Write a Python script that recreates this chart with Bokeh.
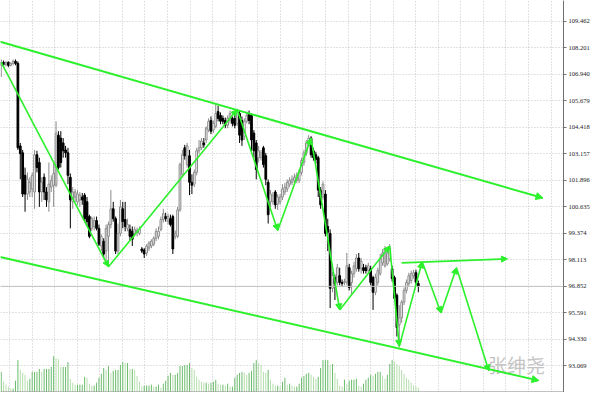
from bokeh.plotting import figure
from bokeh.models import (ColumnDataSource, Range1d, FixedTicker, PrintfTickFormatter,
                          Span, Label, Arrow, NormalHead)
from bokeh.embed import file_html
from bokeh.resources import INLINE

# ---------------- data ----------------
opens = [107.36,107.50,107.41,107.50,107.36,107.45,107.55,107.45,103.53,103.20,
         102.13,101.24,101.34,101.48,101.34,103.11,102.74,101.34,102.04,101.34,
         100.87,101.57,101.66,101.66,104.04,103.90,103.67,103.34,103.20,102.04,
         100.87,101.10,100.87,100.96,101.10,101.19,100.87,100.17,99.61,99.70,
         99.98,99.61,98.77,99.00,98.53,99.23,99.79,100.54,100.07,98.53,
         99.37,100.54,100.03,99.61,99.56,99.47,99.37,99.42,99.37,98.63,
         98.58,98.44,98.67,98.77,98.86,99.14,99.23,99.56,100.03,100.17,
         99.93,100.07,100.17,99.23,99.23,100.49,102.18,103.44,102.64,103.06,
         101.80,101.71,102.27,103.30,103.44,103.67,103.81,104.28,104.74,104.28,
         104.46,105.16,104.98,104.84,104.74,104.51,104.74,104.84,104.84,104.60,
         105.07,104.74,103.99,104.70,105.07,104.98,104.14,103.67,102.97,102.97,
         103.44,103.06,101.80,100.87,100.87,101.34,100.77,100.87,101.10,101.34,
         101.48,101.71,101.80,101.89,101.89,101.89,102.27,102.74,103.20,103.67,
         103.90,103.30,103.11,102.97,101.43,101.10,101.24,99.70,99.37,96.76,
         97.27,97.04,97.36,97.04,97.04,97.04,97.74,97.04,97.46,97.69,
         98.20,97.69,97.74,97.74,97.60,97.69,97.27,96.57,97.04,97.46,
         97.97,97.83,97.92,98.16,97.69,97.27,96.43,95.03,95.36,96.10,
         96.66,96.99,97.13,97.36,97.50,96.99]
highs = [107.64,107.59,107.55,107.55,107.50,107.64,107.64,107.55,103.67,103.34,
         102.50,102.27,102.04,102.27,103.34,103.30,102.97,102.04,102.22,101.57,
         102.74,102.13,102.74,104.70,104.23,104.23,103.90,103.53,103.44,102.22,
         101.57,101.48,101.43,101.34,101.29,101.29,101.10,100.26,100.17,100.17,
         100.17,99.79,99.33,99.14,99.79,99.93,101.43,100.87,100.17,99.84,
         100.96,100.87,100.87,100.07,99.79,99.70,99.70,99.65,99.70,98.72,
         98.67,98.86,99.00,99.09,99.23,99.61,99.70,100.17,100.54,100.35,
         100.31,100.26,100.26,99.51,100.63,102.74,103.34,103.58,103.67,103.34,
         102.18,102.41,103.44,103.81,103.90,103.90,104.46,104.84,104.93,104.74,
         105.54,105.44,105.12,104.98,104.88,104.98,105.21,104.93,105.07,105.30,
         105.21,104.93,104.84,105.16,105.21,105.07,104.28,103.81,103.53,103.34,
         103.53,103.20,101.94,101.43,101.34,101.43,101.24,101.24,101.71,101.76,
         101.94,102.04,102.13,102.22,102.27,102.41,102.97,103.34,103.81,104.04,
         103.99,103.44,103.25,103.06,101.57,101.85,101.43,100.07,99.56,97.55,
         97.41,97.92,97.74,97.18,97.22,98.44,97.92,97.60,98.02,98.39,
         98.44,98.20,97.92,97.88,97.97,97.83,97.36,97.46,97.74,98.39,
         98.63,98.77,98.67,98.86,97.83,97.36,96.52,95.96,96.20,96.80,
         97.18,97.50,97.60,97.64,97.64,97.13]
lows = [106.80,107.27,107.31,107.27,107.31,107.36,107.36,103.34,101.94,101.10,
        100.40,100.96,101.10,101.10,100.54,102.27,100.63,100.87,100.96,100.63,
        100.40,101.34,100.63,101.57,102.41,102.50,102.97,102.97,101.71,99.61,
        100.54,100.87,100.73,100.63,100.73,99.89,99.70,99.14,99.47,99.51,
        99.51,98.77,98.53,98.20,98.06,97.83,99.61,99.93,98.39,98.39,
        99.23,99.61,99.47,99.47,99.00,98.77,99.23,99.23,99.28,98.44,
        98.20,98.30,98.53,98.67,98.77,99.00,99.09,99.47,99.89,99.93,
        99.79,99.70,98.39,99.09,99.14,100.40,102.04,102.88,102.50,101.19,
        101.24,101.57,102.13,103.16,103.34,103.44,103.67,104.18,104.09,104.14,
        104.37,104.70,104.56,104.56,104.37,104.37,104.60,104.46,104.37,104.46,
        103.67,103.53,103.81,104.60,104.56,103.20,102.97,101.94,102.74,102.83,
        102.50,101.66,99.84,100.63,100.73,100.54,100.49,100.73,100.96,101.19,
        101.34,101.57,101.66,101.76,101.76,101.76,102.13,102.59,103.06,103.53,
        102.97,102.83,102.69,101.10,100.54,100.96,99.23,98.53,95.82,96.57,
        96.20,96.90,96.90,96.85,96.90,96.90,96.66,96.43,97.27,97.55,
        97.55,97.46,97.46,97.46,97.46,96.90,95.73,96.43,96.90,97.36,
        97.83,97.74,97.83,98.02,97.08,96.15,94.47,93.95,95.12,95.96,
        96.52,96.85,96.99,97.22,96.90,96.57]
closes = [107.50,107.41,107.50,107.36,107.45,107.55,107.45,103.44,103.16,101.24,
          101.24,101.94,101.80,102.13,103.11,102.50,101.34,101.80,101.34,100.96,
          101.71,101.89,102.22,104.14,102.50,102.74,103.30,103.20,102.13,100.96,
          101.34,101.34,101.24,101.19,100.96,100.07,99.93,99.23,100.07,99.98,
          99.61,98.86,99.23,98.39,99.61,99.79,100.54,100.07,98.53,99.37,
          100.63,99.93,99.70,99.79,99.23,99.09,99.56,99.51,99.56,98.53,
          98.39,98.77,98.91,99.00,99.14,99.47,99.47,100.03,100.31,100.07,
          100.17,99.79,98.63,99.37,100.49,102.64,103.11,103.06,103.53,101.80,
          101.66,102.27,103.30,103.44,103.76,103.58,104.37,104.70,104.23,104.60,
          105.07,104.84,104.70,104.70,104.51,104.84,105.07,104.60,104.51,105.16,
          104.04,103.81,104.70,104.98,104.74,103.81,103.30,102.41,103.30,103.20,
          102.64,101.94,100.26,101.24,101.19,100.73,101.10,101.10,101.48,101.57,
          101.80,101.89,101.94,102.04,102.13,102.27,102.83,103.20,103.67,103.90,
          103.11,102.97,102.88,101.43,100.73,101.71,99.37,99.42,96.76,97.36,
          96.99,97.74,97.04,96.99,97.08,97.83,96.80,97.46,97.83,98.20,
          97.69,98.06,97.60,97.60,97.83,97.04,96.57,97.27,97.60,98.16,
          98.44,98.63,98.44,98.67,97.22,96.29,94.89,95.36,96.10,96.66,
          97.04,97.36,97.46,97.50,97.04,96.85]
volumes = [2100,1100,800,600,400,400,1200,3300,2300,2000,
           1800,1200,1400,2100,2100,2100,2400,2100,2400,2400,
           2400,2600,3700,3500,3400,2600,2600,2600,3100,1400,
           1000,800,800,800,800,1600,1500,900,700,700,
           1000,1500,1900,2500,2300,2700,2000,2200,2300,2300,
           2800,3100,3000,3000,2400,2400,2300,1700,1100,600,
           700,700,700,800,600,600,800,500,900,1200,
           1700,2000,1800,1800,2000,2700,2700,2800,2800,3000,
           2500,2300,1600,1300,1100,1000,1000,900,1000,1100,
           1300,900,800,800,700,900,600,600,1500,1800,
           2000,2100,2000,1800,2000,2200,3000,3300,3000,2800,
           2100,2000,2300,1300,900,700,700,600,1100,1500,
           800,900,700,600,600,900,1500,1700,1900,2000,
           1800,1600,1400,1600,2500,3300,3300,3300,2800,2900,
           2000,1400,700,600,1300,900,1200,1300,1300,1400,
           700,600,900,1300,1500,1800,1700,1900,2100,2100,
           1700,1400,1800,2900,3300,3100,2900,2700,2300,1900,
           1500,1300,1000,700,600,500]
bars = list(range(len(closes)))

# hand-drawn analysis lines (bar index, price)
zz_bar = [0, 45, 99, 116, 130, 142, 163, 167, 176.6, 184.5, 191.0, 204.6]
zz_price = [107.50, 97.78, 105.26, 99.51, 103.90, 95.73, 98.77, 94.00, 98.02, 95.59, 97.74, 92.83]
chan_up_bar = [-0.4, 227.3]
chan_up_price = [108.48, 101.05]
chan_lo_bar = [-0.4, 225.6]
chan_lo_price = [98.25, 92.37]
target_bar = [168, 212.4]
target_price = [97.97, 98.16]

price_ticks = [93.069, 94.330, 95.591, 96.852, 98.113, 99.374, 100.635, 101.896,
               103.157, 104.418, 105.679, 106.940, 108.201, 109.462]
current_price = 96.852
watermark = "张绅尧"

# ---------------- styling ----------------
GREEN = "#2cf02c"
X0, X1 = -0.3, 235.9
Y0, Y1 = 91.806, 110.443

p = figure(width=592, height=392, x_range=Range1d(X0, X1), y_range=Range1d(Y0, Y1),
           output_backend="svg", toolbar_location=None, y_axis_location="right",
           min_border_left=0, min_border_top=0, min_border_bottom=0, min_border_right=0)
p.outline_line_color = None
p.background_fill_color = "white"
p.border_fill_color = "white"

p.xaxis.visible = False
vgrid = [175 + (9.3 + 23 * k - 426) / 2.43 for k in range(25)]
p.xgrid.ticker = FixedTicker(ticks=vgrid)

p.yaxis.ticker = FixedTicker(ticks=price_ticks)
p.yaxis.formatter = PrintfTickFormatter(format="%.3f")
p.yaxis.major_label_text_font_size = "6.5px"
p.yaxis.major_label_text_font = "Liberation Sans Narrow"
p.yaxis.major_label_text_color = "#202020"
p.yaxis.major_tick_out = 3
p.yaxis.major_tick_in = 0
p.yaxis.minor_tick_line_color = None
p.yaxis.axis_line_color = "#707070"
p.yaxis.major_tick_line_color = "#707070"
p.yaxis.major_label_standoff = 2

for g in (p.xgrid, p.ygrid):
    g.grid_line_color = "#c4c4c4"
    g.grid_line_dash = "1 2"
p.ygrid.ticker = FixedTicker(ticks=price_ticks)

# bottom border of the chart
p.add_layout(Span(location=Y0 + 0.03, dimension="width", line_color="#a0a0a0", line_width=1))

# volumes
p.extra_y_ranges = {"vol": Range1d(0, 39900)}
vol_colors = ["#6cbc6c"] + ["#b6deae" if volumes[i] < volumes[i - 1] else "#6cbc6c"
                            for i in range(1, len(volumes))]
p.segment(x0=bars, y0=[0] * len(bars), x1=bars, y1=volumes, y_range_name="vol",
          line_color=vol_colors, line_width=1)

# current price line
p.add_layout(Span(location=current_price, dimension="width", line_color="#c0c0c0", line_width=1))

# candles
up = [c > o for o, c in zip(opens, closes)]
src = ColumnDataSource(dict(
    x=bars, o=opens, h=highs, l=lows, c=closes,
    top=[max(o, c) for o, c in zip(opens, closes)],
    bot=[min(o, c) for o, c in zip(opens, closes)],
    wick=["#8a8a8a" if u else "#000000" for u in up],
    fill=["#ffffff" if u else "#000000" for u in up],
    edge=["#8a8a8a" if u else "#000000" for u in up],
))
p.segment(x0="x", y0="h", x1="x", y1="l", line_color="wick", line_width=1, source=src)
p.vbar(x="x", width=0.72, top="top", bottom="bot", fill_color="fill", line_color="edge",
       line_width=1, source=src)

# watermark
p.add_layout(Label(x=204.2, y=93.16, text=watermark, text_font="Noto Sans CJK SC",
                   text_font_size="19px", text_color="#c4c4c4", text_baseline="middle",
                   text_align="left"))

# analysis lines
def arrows(xs, ys, width, size):
    s = ColumnDataSource(dict(x0=xs[:-1], y0=ys[:-1], x1=xs[1:], y1=ys[1:]))
    p.add_layout(Arrow(source=s, x_start="x0", y_start="y0", x_end="x1", y_end="y1",
                       line_color=GREEN, line_width=width,
                       end=NormalHead(size=size, fill_color=GREEN, line_color=GREEN, line_width=1)))

arrows(chan_up_bar, chan_up_price, 2, 7)
arrows(chan_lo_bar, chan_lo_price, 2, 7)
arrows(zz_bar, zz_price, 1.6, 6)
arrows(target_bar, target_price, 1.6, 6)

open("out.html", "w").write(file_html(p, INLINE))
